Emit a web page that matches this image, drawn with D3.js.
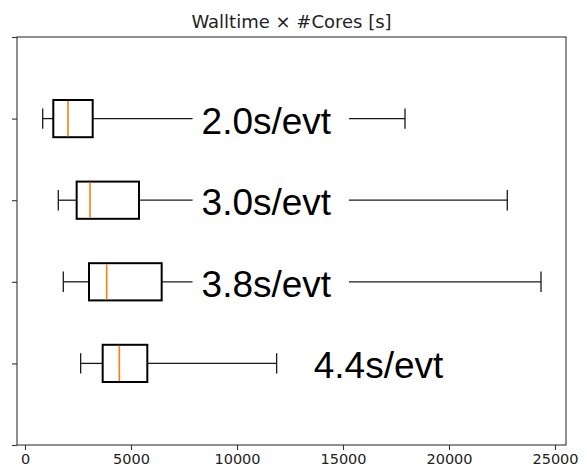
<!DOCTYPE html>
<html>
<head>
<meta charset="utf-8">
<script src="https://cdn.jsdelivr.net/npm/d3@7"></script>
<style>
html,body{margin:0;padding:0;background:#fff;}
svg{display:block;}
</style>
</head>
<body>
<svg id="chart" width="587" height="476"></svg>
<script>
// Data (bottom to top: positions 1..4)
const positions = [1, 2, 3, 4];
const labels = ["4.4s/evt", "3.8s/evt", "3.0s/evt", "2.0s/evt"];
const whiskerLow = [2626, 1807, 1571, 835];
const q1 = [3664, 3019, 2437, 1335];
const medians = [4450, 3852, 3066, 2028];
const q3 = [5770, 6447, 5377, 3193];
const whiskerHigh = [11870, 24340, 22750, 17925];
const labelX = [13620, 8330, 8330, 8330];
const xTicks = [0, 5000, 10000, 15000, 20000, 25000];
const yTicks = [0, 1, 2, 3, 4, 5];
const title = "Walltime × #Cores [s]";

const svg = d3.select("#chart");
const pL = 17, pR = 566, pT = 37, pB = 445;
const x = d3.scaleLinear().domain([-377, 25519]).range([pL, pR]);
const y = d3.scaleLinear().domain([0, 5]).range([pB, pT]);
const halfBox = 0.228, halfCap = 0.125;

const g = svg.append("g");
const data = positions.map((p, i) => ({p, label: labels[i], lo: whiskerLow[i], q1: q1[i], med: medians[i], q3: q3[i], hi: whiskerHigh[i], lx: labelX[i]}));

// whiskers and boxes
data.forEach(d => {
  const cy = y(d.p);
  g.append("line").attr("x1", x(d.lo)).attr("x2", x(d.q1)).attr("y1", cy).attr("y2", cy).attr("stroke", "#1a1a1a").attr("stroke-width", 1.3);
  g.append("line").attr("x1", x(d.q3)).attr("x2", x(d.hi)).attr("y1", cy).attr("y2", cy).attr("stroke", "#1a1a1a").attr("stroke-width", 1.3);
  [d.lo, d.hi].forEach(v => {
    g.append("line").attr("x1", x(v)).attr("x2", x(v)).attr("y1", y(d.p - halfCap)).attr("y2", y(d.p + halfCap)).attr("stroke", "#1a1a1a").attr("stroke-width", 1.3);
  });
  g.append("rect").attr("x", x(d.q1)).attr("y", y(d.p + halfBox)).attr("width", x(d.q3) - x(d.q1)).attr("height", y(d.p - halfBox) - y(d.p + halfBox))
    .attr("fill", "none").attr("stroke", "#000").attr("stroke-width", 2);
  g.append("line").attr("x1", x(d.med)).attr("x2", x(d.med)).attr("y1", y(d.p + halfBox) + 1).attr("y2", y(d.p - halfBox) - 1).attr("stroke", "#ff7f0e").attr("stroke-width", 1.6);
});

// labels with white background
data.forEach(d => {
  const cy = y(d.p);
  const t = g.append("text").attr("x", x(d.lx)).attr("y", cy + 15)
    .attr("font-family", "Liberation Sans, Arial, sans-serif").attr("font-size", 37).attr("fill", "#000").text(d.label);
  const bb = t.node().getBBox();
  g.insert("rect", () => t.node()).attr("x", bb.x - 9).attr("y", cy - 16).attr("width", bb.width + 26).attr("height", 32).attr("fill", "#fff");
});

// frame
svg.append("rect").attr("x", pL).attr("y", pT).attr("width", pR - pL).attr("height", pB - pT)
  .attr("fill", "none").attr("stroke", "#333").attr("stroke-width", 1.1);

// x axis
const xAxis = d3.axisBottom(x).tickValues(xTicks).tickSize(5).tickPadding(4).tickFormat(d3.format("d"));
const gx = svg.append("g").attr("transform", `translate(0,${pB})`).call(xAxis);
gx.select(".domain").remove();
gx.selectAll("line").attr("stroke", "#333").attr("stroke-width", 1.1);
gx.selectAll("text").attr("font-family", "DejaVu Sans").attr("font-size", 14.5).attr("fill", "#222");

// y axis (ticks only)
const yAxis = d3.axisLeft(y).tickValues(yTicks).tickSize(5).tickFormat("");
const gy = svg.append("g").attr("transform", `translate(${pL},0)`).call(yAxis);
gy.select(".domain").remove();
gy.selectAll("line").attr("stroke", "#333").attr("stroke-width", 1.1);

// title
svg.append("text").attr("x", (pL + pR) / 2).attr("y", 27.5).attr("text-anchor", "middle")
  .attr("font-family", "DejaVu Sans").attr("font-size", 18).attr("fill", "#222").text(title);
</script>
</body>
</html>
